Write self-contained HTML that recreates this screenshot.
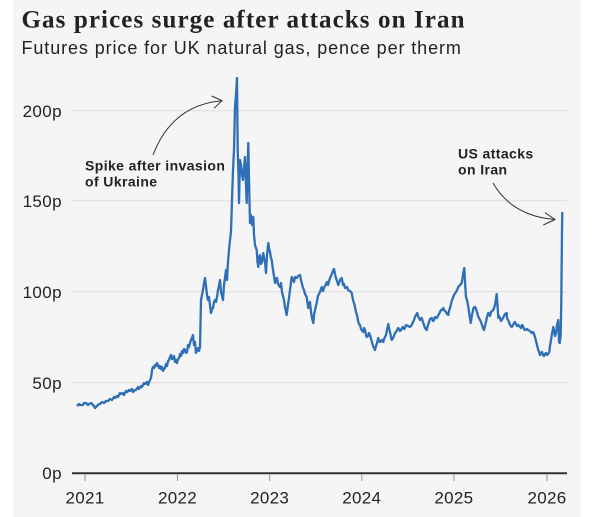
<!DOCTYPE html>
<html>
<head>
<meta charset="utf-8">
<style>
  html, body { margin:0; padding:0; background:#ffffff; }
  body { width:600px; height:517px; overflow:hidden; position:relative; }
  svg { position:absolute; left:0; top:0; }
</style>
</head>
<body>
<svg width="600" height="517" viewBox="0 0 600 517" xmlns="http://www.w3.org/2000/svg">
  <rect x="13" y="0" width="568" height="517" fill="#f5f5f5"/>

  <!-- Title -->
  <text x="21.5" y="27.5" font-family="'Liberation Serif', serif" font-weight="bold" font-size="25" letter-spacing="1.1" fill="#222">Gas prices surge after attacks on Iran</text>
  <text x="21.5" y="54" font-family="'Liberation Sans', sans-serif" font-size="18" letter-spacing="0.9" fill="#222">Futures price for UK natural gas, pence per therm</text>

  <!-- Gridlines -->
  <g stroke="#dcdcdc" stroke-width="1">
    <line x1="72" y1="110.7" x2="567" y2="110.7"/>
    <line x1="72" y1="200.7" x2="567" y2="200.7"/>
    <line x1="72" y1="291.7" x2="567" y2="291.7"/>
    <line x1="72" y1="382.7" x2="567" y2="382.7"/>
  </g>

  <!-- Y labels -->
  <g font-family="'Liberation Sans', sans-serif" font-size="17" letter-spacing="0.4" fill="#222" text-anchor="end">
    <text x="62" y="116.8">200p</text>
    <text x="62" y="206.8">150p</text>
    <text x="62" y="297.8">100p</text>
    <text x="62" y="388.8">50p</text>
    <text x="62" y="479">0p</text>
  </g>

  <!-- Ticks -->
  <g stroke="#999" stroke-width="1">
    <line x1="85" y1="473" x2="85" y2="481"/>
    <line x1="177.5" y1="473" x2="177.5" y2="481"/>
    <line x1="269.6" y1="473" x2="269.6" y2="481"/>
    <line x1="361.8" y1="473" x2="361.8" y2="481"/>
    <line x1="453.9" y1="473" x2="453.9" y2="481"/>
    <line x1="547" y1="473" x2="547" y2="481"/>
  </g>
  <line x1="72" y1="473.3" x2="567" y2="473.3" stroke="#333" stroke-width="2"/>

  <!-- X labels -->
  <g font-family="'Liberation Sans', sans-serif" font-size="17" letter-spacing="0.3" fill="#222" text-anchor="middle">
    <text x="85" y="503.5">2021</text>
    <text x="177.5" y="503.5">2022</text>
    <text x="269.6" y="503.5">2023</text>
    <text x="361.8" y="503.5">2024</text>
    <text x="453.9" y="503.5">2025</text>
    <text x="547" y="503.5">2026</text>
  </g>

  <!-- Data line -->
  <polyline fill="none" stroke="#2e6fb7" stroke-width="2.3" stroke-linejoin="round" points="
77,406 79,404 80,405 83,405 84,403 86,403 88,405 89,404 91,403 92,404 94,406 95,408 96,407 97,406 99,404 100,404 102,402 104,403 106,401 108,401 110,399 112,400 114,397 115,398 117,396 118,397 120,393 121,394 123,393 124,395 126,391 127,392 129,390 130,391 132,389 133,392 135,390 136,390 138,387 139,389 141,386 142,387 144,383 145,384 147,382 148,385 150,380 151,378 152,370 153,367 154,368 155,365 156,366 157,363 158,365 159,368 160,366 161,369 162,367 163,371 164,369 165,368 166,364 167,366 168,361 169,360 170,357 171,355 172,359 173,358 174,356 175,362 176,360 177,363 178,359 179,358 180,354 181,356 182,351 183,353 184,349 185,350 186,353 187,352 188,345 189,347 190,343 191,340 192,338 193,335 194,345 195,342 196,353 197,350 198,348 199,351 200,347 201,300 202,295 203,290 204,283 205,278 206,286 207,295 208,300 209,297 210,305 211,313 212,309 213,308 214,302 215,300 216,302 217,297 218,290 219,286 220,280 221,292 222,296 223,300 224,285 225,278 226,270 227,280 228,262 229,250 230,240 231,232 232,200 233,170 234,150 235,107 236,95 237,78 237.7,150 238.5,175 239,203 240,160 241,165 242,175 243,180 244,168 245,157 246,185 246.7,203 247.5,170 248.3,143 249,180 250,223 251,215 252,225 253.3,217 254,235 255,245 256.7,250 257.5,262 258.3,267 259,258 260,255 261,264 262,262 263.3,253 264,258 265,262 266,273 267,255 268.3,243 269,248 270,252 271,258 271.7,260 273,270 274,276 275,283 276,279 277,278 278,284 280,287 281,283 282,292 283,296 284,300 285,307 286.7,315 288,305 289,298 290,290 291.7,277 293,280 294,282 295,277 297,278 298,276 300,275 301,280 302,284 303,288 304,290 305,294 306.7,297 307.5,303 308.3,308 309,304 310,302 311,312 312,318 313.3,323 314,315 315,310 316.7,303 318,296 319,294 320,292 321.7,287 323,291 324,288 326,284 327,282 328,285 330,278 331,276 333.3,270 334,269 335,274 336,278 337,281 338.3,285 339,283 340,280 341.7,278 342.5,282 343,285 344,284 345,288 347,287 348,290 350,291 351.7,293 353,300 354,303 355,307 356,312 357,315 358.3,322 359,324 360,325 361,329 363.3,332 364,328 365,330 366,335 366.7,337 368,336 369,333 370,335 371,339 372,342 373,346 375,350 376,346 377,343 378.3,338 379,341 380,342 382,340 383.3,342 384,339 386,335 387,330 388.3,324 389,328 390,332 391,337 391.7,340 393,338 394,336 395,333 396,332 397,330 398.3,328 400,331 401,330 402,328 403,327 404,329 405,328 406,325 408,326 410,327 411.7,325 413,322 414,320 415,317 416,315 417.3,313 418,316 419,318 420,320 421.7,318 423,322 424,325 425,328 426.7,330 428,325 429,322 430,319 431.7,318 433,321 434,320 435,317 436.7,318 438,316 439,314 440,312 441,310 442,310 443.3,308 444,310 446,312 447,314 448.3,315 449,311 450,308 451,304 452,300 453.3,297 454,295 456,292 457,290 458.3,287 459,286 460,285 461,284 461.7,283 463,275 464.3,268 465,282 466,297 467,300 468.3,307 469.5,315 470.7,323 472,315 473.5,308 475,307 476,309 477,312 478,316 480,320 481,322 482,325 483,328 484,330 485,326 486,322 487,317 488.3,313 489,314 490,316 491,312 493.3,310 494,308 495,305 496.7,294 497.5,305 498.3,318 499,316 500,318 501,321 501.7,320 503,318 504,316 505,314 506.7,313 507,318 508,320 509,322 510,325 511.7,327 513,325 514,323 515,322 516,324 517,326 518.3,325 520,327 521,328 522,325 523,326 524,329 525,330 527,329 528,330 530,331 531.7,333 533,332 534,334 535,337 536,341 537,345 538,349 539,352 540,355 541,353 542,352 543,355 544,356 545,354 546,353 547,355 548,354 549.3,352 550,346 551,340 552,334 553.3,327 554.5,333 555,336 556,333 557,325 558.3,320 559,342 559.7,343 560.7,335 561.3,300 562,230 562.3,212"/>

  <!-- Annotations -->
  <g font-family="'Liberation Sans', sans-serif" font-weight="bold" font-size="14" letter-spacing="0.4" fill="#222">
    <text x="85" y="170.7">Spike after invasion</text>
    <text x="85" y="186.7">of Ukraine</text>
    <text x="458" y="158.3">US attacks</text>
    <text x="458" y="174.3">on Iran</text>
  </g>

  <g fill="none" stroke="#333" stroke-width="1">
    <path d="M153,155 Q172,105 222,100.7"/>
    <path d="M211.7,96 L222,100.7 L214,108.3"/>
    <path d="M493,183 Q512,216 555,219.5"/>
    <path d="M545,212.7 L555,219.5 L543.3,225"/>
  </g>
</svg>
</body>
</html>
